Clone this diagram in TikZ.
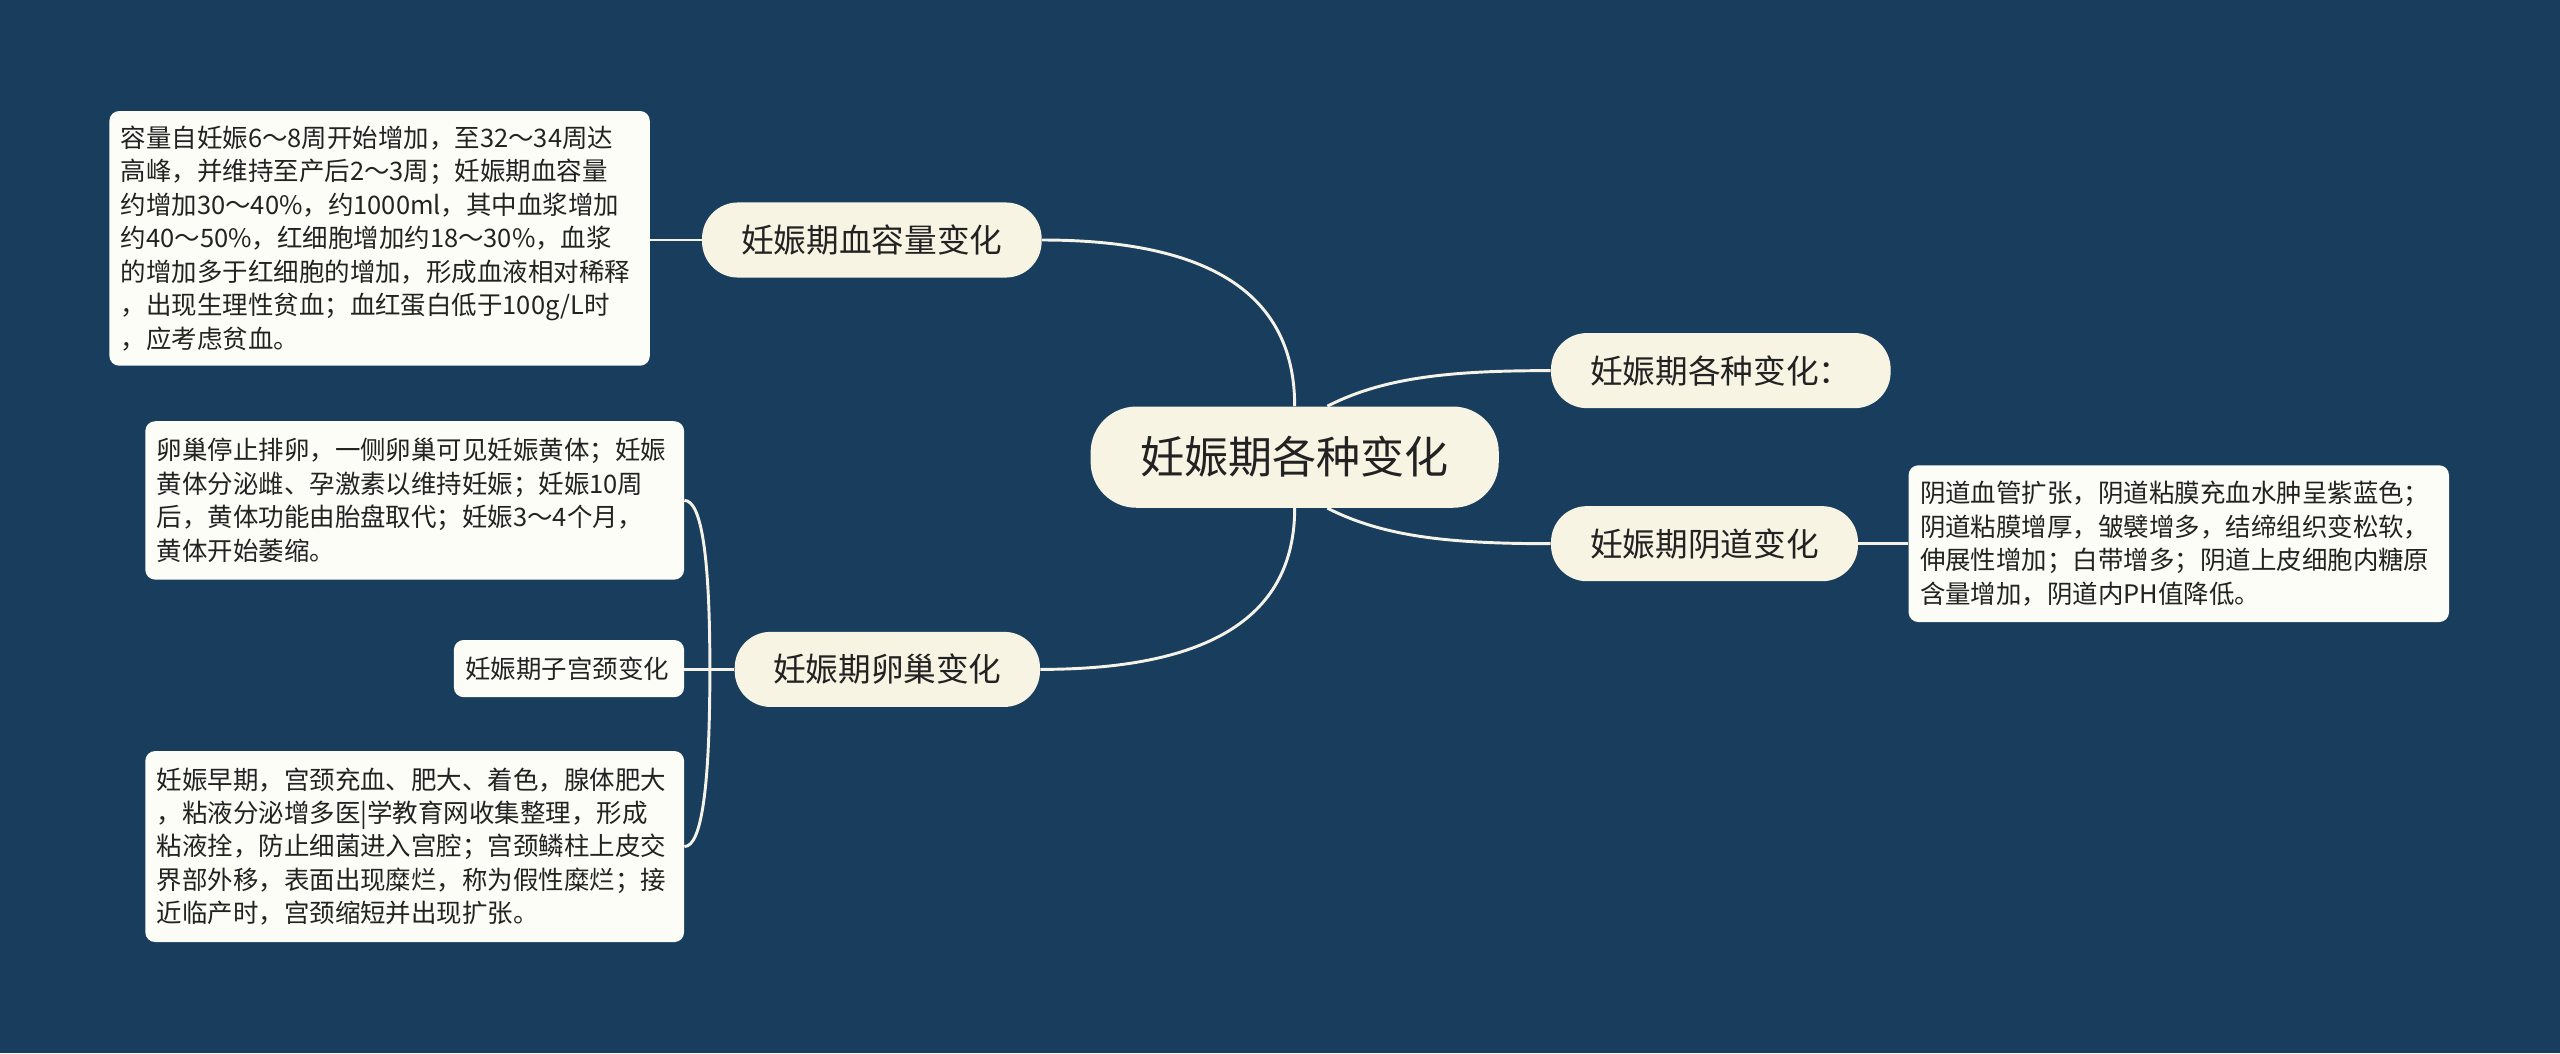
\documentclass[tikz,border=0pt]{standalone}
\usepackage{fontspec}
\newfontfamily\cjk{Noto Sans CJK SC}
\usetikzlibrary{calc}
\definecolor{bg}{RGB}{24,61,93}
\definecolor{cream}{RGB}{248,244,227}
\definecolor{leaffill}{RGB}{253,253,248}
\definecolor{ink}{RGB}{34,34,34}
\definecolor{wire}{RGB}{245,242,232}
\begin{document}
\begin{tikzpicture}[x=1pt,y=-1pt,
  root/.style={fill=cream, rounded corners=28pt, minimum width=250pt, minimum height=62pt,
    font=\cjk\fontsize{27}{32}\selectfont, text=ink, inner sep=0pt},
  branch/.style={fill=cream, rounded corners=22pt, minimum height=46pt,
    font=\cjk\fontsize{20}{24}\selectfont, text=ink, inner sep=0pt},
  leafbox/.style={fill=leaffill, rounded corners=6pt, font=\cjk\fontsize{15.6}{20.5}\selectfont,
    text=ink, align=left, inner xsep=7pt, inner ysep=0pt},
  wirel/.style={draw=wire, line width=1.8pt}
]
\fill[bg] (0,0) rectangle (1568,645);
\useasboundingbox (0,0) rectangle (1568,645);

% nodes
\node[root] (c) at (793,280) {妊娠期各种变化};
\node[branch, minimum width=208pt] (bn) at (534,147) {妊娠期血容量变化};
\node[branch, minimum width=208pt] (gn) at (1054,227) {妊娠期各种变化：};
\node[branch, minimum width=188pt] (vn) at (1044,333) {妊娠期阴道变化};
\node[branch, minimum width=187pt] (ov) at (543.5,410) {妊娠期卵巢变化};

\node[leafbox, text width=317pt, minimum height=156pt] (bleaf) at (232.5,146) {容量自妊娠6～8周开始增加，至32～34周达\\高峰，并维持至产后2～3周；妊娠期血容量\\约增加30～40\%，约1000ml，其中血浆增加\\约40～50\%，红细胞增加约18～30\%，血浆\\的增加多于红细胞的增加，形成血液相对稀释\\，出现生理性贫血；血红蛋白低于100g/L时\\，应考虑贫血。};

\node[leafbox, text width=316pt, minimum height=97pt] (oleaf) at (254,306.5) {卵巢停止排卵，一侧卵巢可见妊娠黄体；妊娠\\黄体分泌雌、孕激素以维持妊娠；妊娠10周\\后，黄体功能由胎盘取代；妊娠3～4个月，\\黄体开始萎缩。};

\node[leafbox, text width=127pt, minimum height=35pt] (cleaf) at (348.5,409.5) {妊娠期子宫颈变化};

\node[leafbox, text width=316pt, minimum height=117pt] (eleaf) at (254,518.5) {妊娠早期，宫颈充血、肥大、着色，腺体肥大\\，粘液分泌增多医|学教育网收集整理，形成\\粘液拴，防止细菌进入宫腔；宫颈鳞柱上皮交\\界部外移，表面出现糜烂，称为假性糜烂；接\\近临产时，宫颈缩短并出现扩张。};

\node[leafbox, text width=317pt, minimum height=96pt] (vleaf) at (1334.5,333) {阴道血管扩张，阴道粘膜充血水肿呈紫蓝色；\\阴道粘膜增厚，皱襞增多，结缔组织变松软，\\伸展性增加；白带增多；阴道上皮细胞内糖原\\含量增加，阴道内PH值降低。};

% helper coordinates
\coordinate (k1) at (c.north |- bn.east);
\coordinate (k2) at (c.south |- ov.east);
\coordinate (s2) at ($(c.north)+(20,0)$);
\coordinate (s3) at ($(c.south)+(20,0)$);
\coordinate (J) at ($(ov.west)+(-15,0)$);
\coordinate (kt) at (J |- oleaf.east);
\coordinate (kb) at (J |- eleaf.east);

% connectors from root
\draw[wirel] (c.north) .. controls ($(c.north)!0.67!(k1)$) and ($(bn.east)!0.67!(k1)$) .. (bn.east);
\draw[wirel] (c.south) .. controls ($(c.south)!0.67!(k2)$) and ($(ov.east)!0.67!(k2)$) .. (ov.east);
\draw[wirel] (s2) .. controls ($(s2)+(35,-18)$) and ($(gn.west)+(-60,0)$) .. (gn.west);
\draw[wirel] (s3) .. controls ($(s3)+(35,18)$) and ($(vn.west)+(-60,0)$) .. (vn.west);

% to leaves
\draw[wirel] (bn.west) -- (bn.west -| bleaf.east);
\draw[wirel] (vn.east) -- (vn.east -| vleaf.west);
\draw[wirel] (ov.west) -- (J);
\draw[wirel] (J) -- (J -| cleaf.east);
\draw[wirel] (J) .. controls ($(J)!0.67!(kt)$) and ($(oleaf.east)!0.67!(kt)$) .. (oleaf.east);
\draw[wirel] (J) .. controls ($(J)!0.67!(kb)$) and ($(eleaf.east)!0.67!(kb)$) .. (eleaf.east);
\end{tikzpicture}
\end{document}
